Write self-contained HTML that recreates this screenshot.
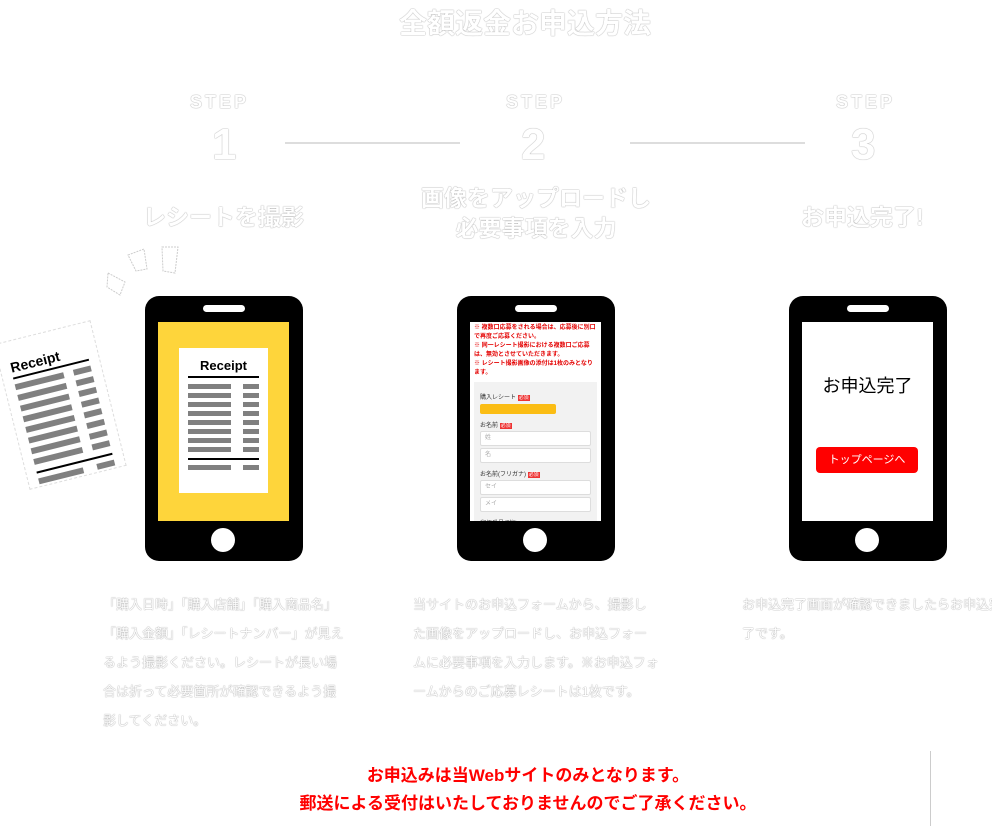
<!DOCTYPE html>
<html><head><meta charset="utf-8"><style>
*{margin:0;padding:0;box-sizing:border-box}
body{width:992px;height:826px;background:#fff;position:relative;overflow:hidden;font-family:"Liberation Sans","Noto Sans CJK JP",sans-serif}
.a{position:absolute}
.w{color:#fff;text-shadow:0 0 1px #999,0 0 1px #bbb;font-weight:bold}
.phone{position:absolute;top:296px;width:158px;height:265px;background:#000;border-radius:14px}
.spk{position:absolute;left:58px;top:9px;width:42px;height:7px;background:#fff;border-radius:4px}
.scr{position:absolute;left:13px;top:26px;width:131px;height:199px;background:#fff;overflow:hidden}
.home{position:absolute;left:66px;top:232px;width:24px;height:24px;border-radius:50%;background:#fff}
.line{position:absolute;top:142px;height:2px;background:#eee;border:1px solid #ddd}
.body{position:absolute;top:590px;font-size:13px;line-height:29px;width:246px}
.bar{height:6px;background:#808080;margin-bottom:5px}
.r{color:#e40000;font-size:6px;line-height:9px;font-weight:bold}
.inp{height:15px;border:1px solid #ddd;border-radius:2px;background:#fff;margin:2px 0;font-size:6px;color:#aaa;padding-left:4px;line-height:13px}
.lb{font-size:6px;color:#333;margin-top:6px}
.lb span{background:#e33;color:#fff;font-size:5px;padding:0 1px}
</style></head><body>
<div class="a w" style="left:0;width:1050px;top:2px;text-align:center;font-size:28px">全額返金お申込方法</div>

<div class="a w" style="left:190px;top:92px;font-size:18px;letter-spacing:3px">STEP</div>
<div class="a w" style="left:212px;top:120px;font-size:44px">1</div>
<div class="a w" style="left:506px;top:92px;font-size:18px;letter-spacing:3px">STEP</div>
<div class="a w" style="left:521px;top:120px;font-size:44px">2</div>
<div class="a w" style="left:836px;top:92px;font-size:18px;letter-spacing:3px">STEP</div>
<div class="a w" style="left:851px;top:120px;font-size:44px">3</div>
<div class="line" style="left:285px;width:175px"></div>
<div class="line" style="left:630px;width:175px"></div>

<div class="a w" style="left:143px;top:198px;font-size:23px">レシートを撮影</div>
<div class="a w" style="left:405px;top:183px;width:262px;text-align:center;font-size:23px;line-height:30px">画像をアップロードし<br>必要事項を入力</div>
<div class="a w" style="left:801px;top:198px;font-size:23px">お申込完了!</div>

<svg class="a" style="left:100px;top:245px" width="90" height="60"><g fill="#fff" stroke="#ccc" stroke-dasharray="2 1"><polygon points="8,28 25,37 20,50 7,42"/><polygon points="28,10 44,4 47,24 36,26"/><polygon points="62,2 78,2 75,28 63,26"/></g></svg>

<div class="a" style="left:10px;top:330px;width:100px;height:150px;background:#fff;border:1px dashed #ddd;transform:rotate(-14deg);padding:18px 10px">
<div style="font-weight:bold;font-size:14px;border-bottom:2px solid #000;padding-bottom:2px;margin-bottom:5px">Receipt</div>
<div style="display:flex;gap:10px"><div style="flex:1"><div class="bar"></div><div class="bar"></div><div class="bar"></div><div class="bar"></div><div class="bar"></div><div class="bar"></div><div class="bar"></div><div class="bar"></div></div><div style="width:18px"><div class="bar"></div><div class="bar"></div><div class="bar"></div><div class="bar"></div><div class="bar"></div><div class="bar"></div><div class="bar"></div><div class="bar"></div></div></div>
<div style="border-top:2px solid #000;margin-top:2px;padding-top:5px;display:flex;gap:14px"><div class="bar" style="flex:1"></div><div class="bar" style="width:18px"></div></div>
</div>

<div class="phone" style="left:145px"><div class="spk"></div>
<div class="scr" style="background:#fed53b"><div style="position:absolute;left:21px;top:26px;width:89px;height:145px;background:#fff;padding:10px 9px">
<div style="font-weight:bold;font-size:13px;text-align:center;border-bottom:2px solid #000;padding-bottom:3px;margin-bottom:6px">Receipt</div>
<div style="display:flex;gap:12px"><div style="flex:1"><div class="bar" style="height:5px;margin-bottom:4px"></div><div class="bar" style="height:5px;margin-bottom:4px"></div><div class="bar" style="height:5px;margin-bottom:4px"></div><div class="bar" style="height:5px;margin-bottom:4px"></div><div class="bar" style="height:5px;margin-bottom:4px"></div><div class="bar" style="height:5px;margin-bottom:4px"></div><div class="bar" style="height:5px;margin-bottom:4px"></div><div class="bar" style="height:5px;margin-bottom:4px"></div></div><div style="width:16px"><div class="bar" style="height:5px;margin-bottom:4px"></div><div class="bar" style="height:5px;margin-bottom:4px"></div><div class="bar" style="height:5px;margin-bottom:4px"></div><div class="bar" style="height:5px;margin-bottom:4px"></div><div class="bar" style="height:5px;margin-bottom:4px"></div><div class="bar" style="height:5px;margin-bottom:4px"></div><div class="bar" style="height:5px;margin-bottom:4px"></div><div class="bar" style="height:5px;margin-bottom:4px"></div></div></div>
<div style="border-top:2px solid #000;margin-top:2px;padding-top:5px;display:flex;gap:12px"><div class="bar" style="flex:1;height:5px"></div><div class="bar" style="width:16px;height:5px"></div></div>
</div></div><div class="home"></div></div>

<div class="phone" style="left:457px"><div class="spk"></div>
<div class="scr" style="padding:2px 4px">
<div class="r">※ 複数口応募をされる場合は、応募後に別口で再度ご応募ください。<br>※ 同一レシート撮影における複数口ご応募は、無効とさせていただきます。<br>※ レシート撮影画像の添付は1枚のみとなります。</div>
<div style="background:#f2f2f2;margin-top:4px;padding:4px 6px 0;height:160px">
<div class="lb">購入レシート <span>必須</span></div>
<div style="background:#fbbd14;width:76px;height:10px;margin-top:3px;border-radius:2px"></div>
<div class="lb">お名前 <span>必須</span></div>
<div class="inp">姓</div><div class="inp">名</div>
<div class="lb">お名前(フリガナ) <span>必須</span></div>
<div class="inp">セイ</div><div class="inp">メイ</div>
<div class="lb">郵便番号(7桁) <span>必須</span></div>
<div class="inp">例）1030001</div>
</div></div><div class="home"></div></div>

<div class="phone" style="left:789px"><div class="spk"></div>
<div class="scr"><div style="position:absolute;top:50px;width:100%;text-align:center;font-size:18px;color:#000">お申込完了</div>
<div style="position:absolute;left:14px;top:125px;width:102px;height:26px;background:#f00;border-radius:4px;color:#fff;font-size:11px;text-align:center;line-height:26px">トップページへ</div></div>
<div class="home"></div></div>

<div class="body w" style="left:103px;font-weight:normal">「購入日時」「購入店舗」「購入商品名」「購入金額」「レシートナンバー」が見えるよう撮影ください。レシートが長い場合は折って必要箇所が確認できるよう撮影してください。</div>
<div class="body w" style="left:413px;font-weight:normal">当サイトのお申込フォームから、撮影した画像をアップロードし、お申込フォームに必要事項を入力します。※お申込フォームからのご応募レシートは1枚です。</div>
<div class="body w" style="left:742px;width:260px;font-weight:normal">お申込完了画面が確認できましたらお申込完了です。</div>

<div class="a" style="left:0;width:1056px;top:762px;text-align:center;color:#f00;font-weight:bold;font-size:17px;line-height:28px">お申込みは当Webサイトのみとなります。<br>郵送による受付はいたしておりませんのでご了承ください。</div>
<div class="a" style="left:930px;top:751px;width:1px;height:75px;background:#ccc"></div>
</body></html>
